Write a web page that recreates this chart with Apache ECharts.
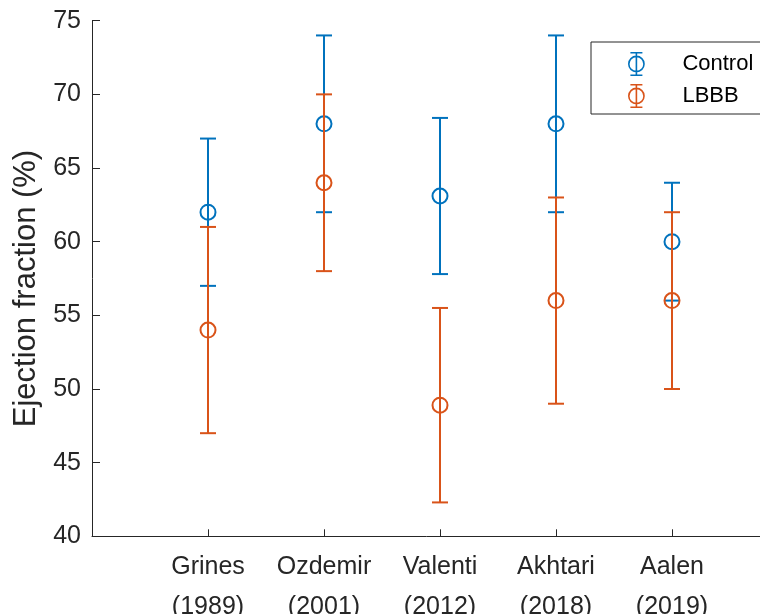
<!DOCTYPE html>
<html>
<head>
<meta charset="utf-8">
<script src="https://cdn.jsdelivr.net/npm/echarts@6/dist/echarts.min.js"></script>
<style>
  html, body { margin: 0; padding: 0; background: #fff; }
  #chart { width: 760px; height: 614px; }
</style>
</head>
<body>
<div id="chart"></div>
<script>
// studies and their years (x axis)
const studies = ['Grines', 'Ozdemir', 'Valenti', 'Akhtari', 'Aalen'];
const years = ['1989', '2001', '2012', '2018', '2019'];

// ejection fraction, mean and error bar ends
const controlMean = [62, 68, 63.1, 68, 60];
const controlLow = [57, 62, 57.8, 62, 56];
const controlHigh = [67, 74, 68.4, 74, 64];

const lbbbMean = [54, 64, 48.9, 56, 56];
const lbbbLow = [47, 58, 42.3, 49, 50];
const lbbbHigh = [61, 70, 55.5, 63, 62];

const yTicks = [40, 45, 50, 55, 60, 65, 70, 75];

const blue = '#0072BD';
const orange = '#D95319';
const ink = '#262626';
const font = '"Liberation Sans", Arial, Helvetica, sans-serif';

// little errorbar glyph for the legend (20 x 24 box)
const errIcon = 'path://M9.2,0H10.8V24H9.2Z M4,0H16V1.6H4Z M4,22.4H16V24H4Z ' +
  'M1.6,12A8.4,8.4 0 1,1 18.4,12A8.4,8.4 0 1,1 1.6,12Z ' +
  'M3.2,12A6.8,6.8 0 1,0 16.8,12A6.8,6.8 0 1,0 3.2,12Z';

function barSeries(name, low, high, color, z) {
  return {
    name: name,
    type: 'custom',
    z: z,
    data: low.map((l, i) => [i + 1, l, high[i]]),
    renderItem: function (params, api) {
      const top = api.coord([api.value(0), api.value(2)]);
      const bot = api.coord([api.value(0), api.value(1)]);
      const w = 8;
      const style = { stroke: color, lineWidth: 2 };
      return {
        type: 'group',
        children: [
          { type: 'line', shape: { x1: top[0], y1: top[1], x2: bot[0], y2: bot[1] }, style: style },
          { type: 'line', shape: { x1: top[0] - w, y1: top[1], x2: top[0] + w, y2: top[1] }, style: style },
          { type: 'line', shape: { x1: bot[0] - w, y1: bot[1], x2: bot[0] + w, y2: bot[1] }, style: style }
        ]
      };
    }
  };
}

function dotSeries(name, mean, color, z) {
  return {
    name: name,
    type: 'scatter',
    z: z,
    symbol: 'circle',
    symbolSize: 15,
    itemStyle: { color: 'rgba(0,0,0,0)', borderColor: color, borderWidth: 2, opacity: 1 },
    data: mean.map((m, i) => [i + 1, m])
  };
}

const chart = echarts.init(document.getElementById('chart'));
chart.setOption({
  animation: false,
  backgroundColor: '#fff',
  grid: {
    left: 92, top: 20.7, bottom: 77.7, right: -28,
    containLabel: false, outerBoundsMode: 'none'
  },
  legend: {
    orient: 'vertical',
    left: 591,
    top: 42,
    padding: [10, 40, 6, 37],
    itemGap: 8,
    itemWidth: 20,
    itemHeight: 24,
    borderColor: ink,
    borderWidth: 1,
    backgroundColor: '#fff',
    selectedMode: false,
    textStyle: { fontFamily: font, fontSize: 22, color: '#000', padding: [0, 0, 0, 31] },
    data: [
      { name: 'Control', icon: errIcon, itemStyle: { color: blue } },
      { name: 'LBBB', icon: errIcon, itemStyle: { color: orange } }
    ]
  },
  xAxis: {
    type: 'value',
    min: 0,
    max: studies.length + 1,
    interval: 1,
    splitLine: { show: false },
    axisLine: { show: true, lineStyle: { color: ink, width: 1 } },
    axisTick: { show: true, inside: true, length: 7, lineStyle: { color: ink } },
    axisLabel: {
      fontFamily: font,
      fontSize: 25,
      color: ink,
      lineHeight: 40,
      margin: 11,
      formatter: function (v) {
        const i = Math.round(v) - 1;
        if (i < 0 || i >= studies.length) return '';
        return studies[i] + '\n(' + years[i] + ')';
      }
    }
  },
  yAxis: {
    type: 'value',
    min: yTicks[0],
    max: yTicks[yTicks.length - 1],
    interval: 5,
    name: 'Ejection fraction (%)',
    nameLocation: 'middle',
    nameGap: 50,
    nameTextStyle: { fontFamily: font, fontSize: 31, color: ink, padding: [0, 20, 0, 0] },
    splitLine: { show: false },
    axisLine: { show: true, lineStyle: { color: ink, width: 1 } },
    axisTick: { show: true, inside: true, length: 8, lineStyle: { color: ink } },
    axisLabel: { fontFamily: font, fontSize: 25, color: ink, margin: 11 }
  },
  series: [
    barSeries('Control', controlLow, controlHigh, blue, 2),
    dotSeries('Control', controlMean, blue, 3),
    barSeries('LBBB', lbbbLow, lbbbHigh, orange, 4),
    dotSeries('LBBB', lbbbMean, orange, 5)
  ]
});
</script>
</body>
</html>
